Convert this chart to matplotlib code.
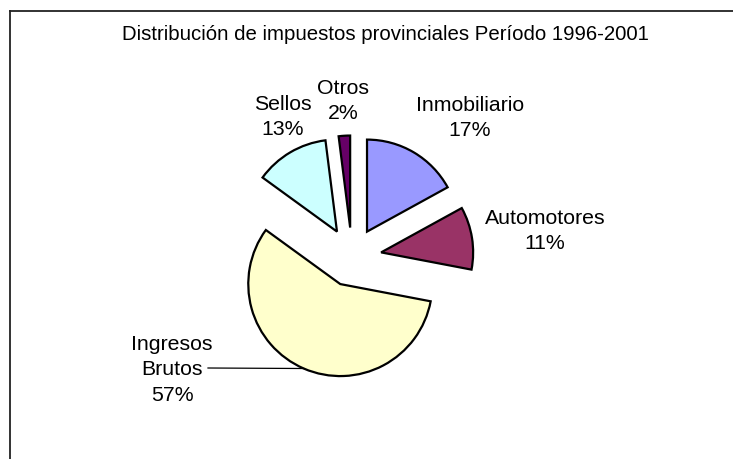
import numpy as np
import matplotlib
matplotlib.use('Agg')
import matplotlib.pyplot as plt
from matplotlib.lines import Line2D

plt.rcParams['font.family'] = ['Liberation Sans', 'DejaVu Sans']

categories = ['Inmobiliario', 'Automotores', 'Ingresos\nBrutos', 'Sellos', 'Otros']
shares = [17, 11, 57, 13, 2]
colors = ['#9999FF', '#993366', '#FFFFCC', '#CCFFFF', '#660066']
title = 'Distribución de impuestos provinciales Período 1996-2001'

# layout in pixel units (y up)
W, H = 733, 460
center = (352, 460 - 258)
radius = 92
explode = [29.5] * len(shares)
label_pos = [(470, 460 - 118), (545, 460 - 231), (172, 460 - 370),
             (283, 460 - 117), (343, 460 - 101)]

fig = plt.figure(figsize=(W / 100, H / 100), dpi=100)
ax = fig.add_axes([0, 0, 1, 1])

wedges, _ = ax.pie(shares, colors=colors, explode=explode, center=center,
                   radius=radius, startangle=90, counterclock=False,
                   wedgeprops=dict(edgecolor='black', linewidth=1.6))

ax.set_xlim(0, W)
ax.set_ylim(0, H)
ax.set_aspect('equal', adjustable='box')
ax.axis('off')

total = sum(shares)
for i, (cat, val) in enumerate(zip(categories, shares)):
    pct = round(val / total * 100)
    ax.text(label_pos[i][0], label_pos[i][1], f'{cat}\n{pct}%', ha='center',
            va='center', fontsize=15.3, linespacing=1.45)

# leader line for Ingresos Brutos
w = wedges[2]
tm = np.deg2rad((w.theta1 + w.theta2) / 2)
px = w.center[0] + w.r * np.cos(tm)
py = w.center[1] + w.r * np.sin(tm)
ax.plot([208, px], [460 - 369, py], color='black', lw=0.9)

ax.text(385, 460 - 35, title, ha='center', va='center', fontsize=14.7)

# chart area border (left and top edges visible)
fig.add_artist(Line2D([9.5 / W, 9.5 / W], [0, 1 - 12 / H], color='#222222', lw=1.3))
fig.add_artist(Line2D([9.5 / W, 1], [1 - 12 / H, 1 - 12 / H], color='#222222', lw=1.3))

fig.savefig('out.png', dpi=100)
